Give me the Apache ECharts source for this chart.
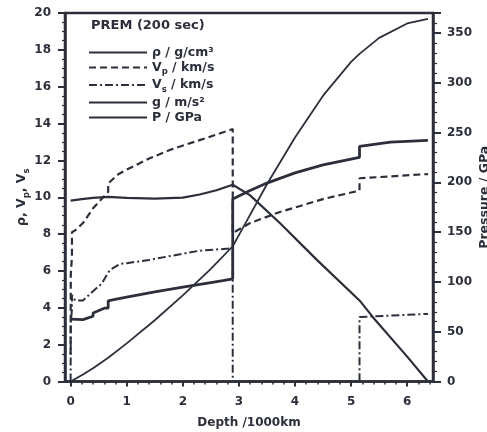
<!DOCTYPE html>
<html>
<head>
<meta charset="utf-8">
<script src="https://cdn.jsdelivr.net/npm/echarts@6/dist/echarts.min.js"></script>
<style>
html,body{margin:0;padding:0;background:#fff;}
#c{width:487px;height:432px;}
</style>
</head>
<body>
<div id="c"></div>
<script>
// Depth in 1000 km
const rhoDepth = [0, 0.22, 0.22, 0.4, 0.4, 0.6, 0.67, 0.67, 0.77, 1.0, 1.5, 2.0, 2.5, 2.74, 2.89, 2.89, 3.2, 3.5, 4.0, 4.5, 5.15, 5.15, 5.7, 6.37];
const rho      = [3.38, 3.36, 3.44, 3.54, 3.72, 3.98, 3.99, 4.38, 4.44, 4.58, 4.86, 5.12, 5.37, 5.49, 5.57, 9.90, 10.37, 10.77, 11.32, 11.76, 12.17, 12.76, 12.99, 13.09];

const vpDepth = [0, 0.003, 0.003, 0.024, 0.024, 0.08, 0.22, 0.4, 0.67, 0.67, 0.85, 1.0, 1.4, 1.8, 2.3, 2.89, 2.89, 3.2, 3.73, 4.5, 5.15, 5.15, 6.37];
const vp      = [1.45, 1.45, 5.8, 6.8, 8.1, 8.2, 8.6, 9.4, 10.3, 10.75, 11.25, 11.5, 12.1, 12.6, 13.1, 13.7, 8.06, 8.6, 9.2, 9.9, 10.36, 11.03, 11.26];

const vsDepth = [0, 0.003, 0.003, 0.024, 0.024, 0.08, 0.22, 0.4, 0.55, 0.67, 0.7, 0.88, 1.0, 1.4, 2.3, 2.89, 2.89, 5.15, 5.15, 6.37];
const vs      = [0, 0, 3.2, 3.9, 4.7, 4.4, 4.4, 4.9, 5.3, 5.9, 6.05, 6.38, 6.42, 6.6, 7.1, 7.23, 0, 0, 3.5, 3.67];

const gDepth = [0, 0.2, 0.4, 0.67, 1.0, 1.5, 2.0, 2.3, 2.6, 2.89, 3.2, 3.73, 4.39, 5.15, 5.4, 6.0, 6.37];
const g      = [9.82, 9.9, 9.97, 10.02, 9.97, 9.93, 9.98, 10.15, 10.38, 10.68, 10.1, 8.6, 6.6, 4.4, 3.45, 1.35, 0];

const pDepth = [0, 0.22, 0.4, 0.67, 1.0, 1.5, 2.0, 2.5, 2.89, 3.0, 3.5, 4.0, 4.5, 5.0, 5.15, 5.5, 6.0, 6.37];
const pres   = [0, 7.1, 13.4, 23.8, 38.3, 61.5, 86.5, 113, 135.8, 147, 198, 245, 287, 321, 329, 345, 359.5, 364];

const xTicks = [0, 1, 2, 3, 4, 5, 6];
const xMinorTicks = [0.2,0.4,0.6,0.8,1.2,1.4,1.6,1.8,2.2,2.4,2.6,2.8,3.2,3.4,3.6,3.8,4.2,4.4,4.6,4.8,5.2,5.4,5.6,5.8,6.2,6.4];

const legendNames = ['rho', 'vp', 'vs', 'g', 'p'];
const titleText = 'PREM (200 sec)';

const zip = (a, b) => a.map((v, i) => [v, b[i]]);
const C = '#2c2f3b';
const FONT = '"DejaVu Sans", "Liberation Sans", Arial, sans-serif';

const richText = {
  a: {fontSize: 12.5, fontWeight: 'bold', fontFamily: FONT, color: C, verticalAlign: 'middle', lineHeight: 18},
  sub: {fontSize: 8.5, fontWeight: 'bold', fontFamily: FONT, color: C, verticalAlign: 'bottom', lineHeight: 18}
};
const legendLabels = {
  rho: '{a|ρ / g/cm³}',
  vp: '{a|V}{sub|p}{a| / km/s}',
  vs: '{a|V}{sub|s}{a| / km/s}',
  g: '{a|g / m/s²}',
  p: '{a|P / GPa}'
};

const chart = echarts.init(document.getElementById('c'), null, {renderer: 'canvas'});
const lineBase = {type: 'line', symbol: 'none', smooth: false, animation: false, z: 3};
const tickFont = {fontSize: 12, fontWeight: 'bold', fontFamily: FONT, color: C};

chart.setOption({
  animation: false,
  backgroundColor: '#fff',
  title: {
    text: titleText, left: 91, top: 19, padding: 0,
    textStyle: {fontSize: 13, fontWeight: 'bold', fontFamily: FONT, color: C}
  },
  legend: {
    show: true, orient: 'vertical', left: 88, top: 46, padding: 0,
    itemWidth: 58, itemHeight: 14, itemGap: 2,
    data: legendNames,
    itemStyle: {opacity: 0},
    formatter: n => legendLabels[n],
    textStyle: {rich: richText, fontFamily: FONT, color: C}
  },
  grid: {left: 65, right: 54, top: 13, bottom: 50.5, show: true, borderColor: C, borderWidth: 2.5,
    backgroundColor: 'transparent', containLabel: false, outerBoundsMode: 'none'},
  xAxis: [
    {
      type: 'value', min: -0.1, max: 6.46, position: 'bottom',
      axisLine: {show: true, onZero: false, lineStyle: {color: C, width: 2.5}},
      axisTick: {show: true, inside: false, customValues: xTicks, length: 5, lineStyle: {color: C, width: 2}},
      axisLabel: Object.assign({show: true, customValues: xTicks, margin: 14}, tickFont),
      splitLine: {show: false},
      name: 'Depth /1000km', nameLocation: 'middle', nameGap: 35, nameMoveOverlap: false,
      nameTextStyle: {fontSize: 12, fontWeight: 'bold', fontFamily: FONT, color: C}
    },
    {
      type: 'value', min: -0.1, max: 6.46, position: 'bottom',
      axisLine: {show: false, onZero: false},
      axisTick: {show: true, inside: false, customValues: xMinorTicks, length: 3, lineStyle: {color: C, width: 1.5}},
      axisLabel: {show: false},
      splitLine: {show: false}
    }
  ],
  yAxis: [
    {
      type: 'value', min: 0, max: 20, interval: 2, position: 'left',
      axisLine: {show: true, onZero: false, lineStyle: {color: C, width: 2.5}},
      axisTick: {show: true, inside: false, length: 7, lineStyle: {color: C, width: 2}},
      minorTick: {show: true, splitNumber: 4, length: 3, lineStyle: {color: C, width: 1.2}},
      axisLabel: Object.assign({margin: 14}, tickFont),
      splitLine: {show: false}, minorSplitLine: {show: false},
      name: 'ρ, V{sub|p}, V{sub|s}', nameLocation: 'middle', nameGap: 34, nameRotate: 90, nameMoveOverlap: false,
      nameTextStyle: {fontSize: 12.5, fontWeight: 'bold', fontFamily: FONT, color: C, rich: richText}
    },
    {
      type: 'value', min: 0, max: 370, interval: 50, position: 'right',
      axisLine: {show: true, onZero: false, lineStyle: {color: C, width: 2.5}},
      axisTick: {show: true, inside: false, length: 8, lineStyle: {color: C, width: 2}},
      minorTick: {show: true, splitNumber: 5, length: 4, lineStyle: {color: C, width: 1.2}},
      axisLabel: Object.assign({margin: 14, showMaxLabel: false,
        formatter: v => (v % 50 === 0 ? String(v) : '')}, tickFont),
      splitLine: {show: false}, minorSplitLine: {show: false},
      name: 'Pressure / GPa', nameLocation: 'middle', nameGap: 45, nameRotate: 90, nameMoveOverlap: false,
      nameTextStyle: {fontSize: 12.5, fontWeight: 'bold', fontFamily: FONT, color: C}
    }
  ],
  series: [
    Object.assign({}, lineBase, {name: 'rho', xAxisIndex: 0, yAxisIndex: 0, data: zip(rhoDepth, rho),
      lineStyle: {color: C, width: 2.8, type: 'solid'}, itemStyle: {color: C}}),
    Object.assign({}, lineBase, {name: 'vp', xAxisIndex: 0, yAxisIndex: 0, data: zip(vpDepth, vp),
      lineStyle: {color: C, width: 2.2, type: [7, 4]}, itemStyle: {color: C}}),
    Object.assign({}, lineBase, {name: 'vs', xAxisIndex: 0, yAxisIndex: 0, data: zip(vsDepth, vs),
      lineStyle: {color: C, width: 2, type: [8, 3, 2, 3]}, itemStyle: {color: C}}),
    Object.assign({}, lineBase, {name: 'g', xAxisIndex: 0, yAxisIndex: 0, data: zip(gDepth, g),
      lineStyle: {color: C, width: 2.2, type: 'solid'}, itemStyle: {color: C}}),
    Object.assign({}, lineBase, {name: 'p', xAxisIndex: 0, yAxisIndex: 1, data: zip(pDepth, pres),
      lineStyle: {color: C, width: 1.8, type: 'solid'}, itemStyle: {color: C}})
  ]
});
</script>
</body>
</html>
